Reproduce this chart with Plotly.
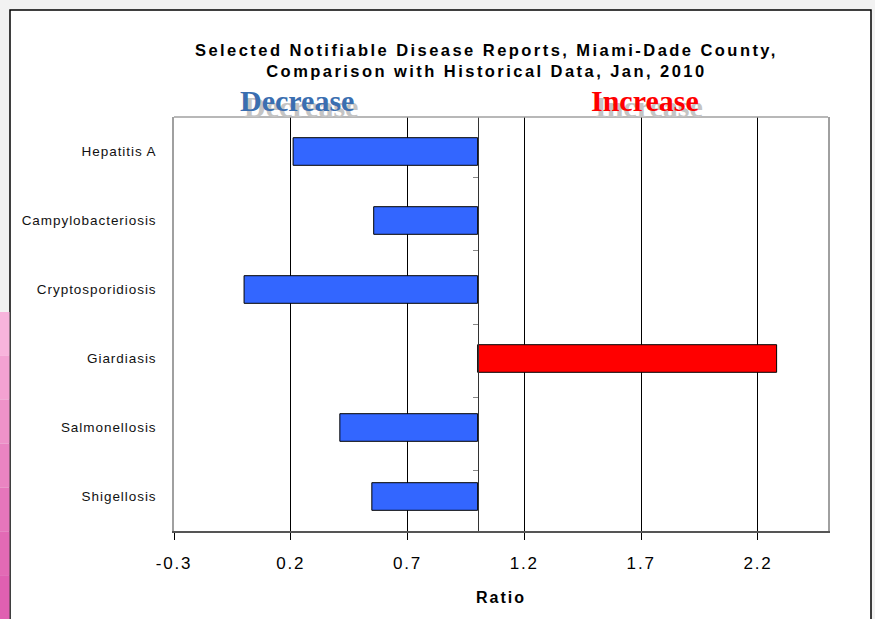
import plotly.graph_objects as go

# ---- data ----
categories = ["Hepatitis A", "Campylobacteriosis", "Cryptosporidiosis",
              "Giardiasis", "Salmonellosis", "Shigellosis"]
ratios = [0.21, 0.555, 0.0, 2.28, 0.41, 0.547]
baseline = 1.0
x_ticks = [-0.3, 0.2, 0.7, 1.2, 1.7, 2.2]
x_range = [-0.3, 2.5]

W, H = 875, 619
L, R, T, B = 174, 828, 117, 531  # plot area pixel edges


def px(xp):
    return (xp - L) / (R - L)


def py(yp):
    return (B - yp) / (B - T)


colors = ["#3366FF" if r < baseline else "#FF0000" for r in ratios]

fig = go.Figure()
fig.add_trace(go.Bar(
    y=categories, x=[r - baseline for r in ratios], base=baseline,
    orientation="h", marker=dict(color=colors, line=dict(color="#000000", width=1)),
    width=0.4, showlegend=False, hoverinfo="skip",
))
# invisible trace to carry the crossing axis at x = 1.0
fig.add_trace(go.Scatter(
    y=categories, x=[baseline] * len(categories), yaxis="y2",
    mode="markers", marker=dict(opacity=0), showlegend=False, hoverinfo="skip",
))

cross_pos = (baseline - x_range[0]) / (x_range[1] - x_range[0])
sp = "<span style='letter-spacing:0.95px'>{}</span>"
spx = "<span style='letter-spacing:1.8px'>{:g}</span>"

fig.update_layout(
    width=W, height=H,
    margin=dict(l=L, r=W - R, t=T, b=H - B),
    paper_bgcolor="#f2f2f2",
    plot_bgcolor="#ffffff",
    font=dict(family="Liberation Sans, Arial, sans-serif", color="#000000"),
    xaxis=dict(
        range=x_range, tickvals=x_ticks, ticktext=[spx.format(v) for v in x_ticks],
        showgrid=True, gridcolor="#000000", gridwidth=1,
        showline=True, linecolor="#555555", linewidth=2,
        ticks="outside", ticklen=7, tickcolor="#000000",
        tickfont=dict(size=17, color="#000000"),
        ticklabelstandoff=9, zeroline=False,
        title=dict(text="<span style='letter-spacing:2px'><b>Ratio</b></span>",
                   font=dict(size=16), standoff=19),
    ),
    yaxis=dict(
        autorange="reversed", showline=True, linecolor="#a0a0a0", linewidth=1.5,
        mirror=True, ticks="", tickfont=dict(size=13.5, color="#111111"),
        tickvals=categories, ticktext=[sp.format(c) for c in categories],
        ticklabelstandoff=13, showgrid=False, zeroline=False,
    ),
    yaxis2=dict(
        overlaying="y", anchor="free", position=cross_pos, side="left",
        autorange="reversed", showline=True, linecolor="#333333", linewidth=1,
        ticks="outside", tickson="boundaries", ticklen=5, tickcolor="#888888",
        showticklabels=False, showgrid=False, zeroline=False,
    ),
)

shapes = []
# outer white frame with black border
shapes.append(dict(type="rect", xref="paper", yref="paper", layer="below",
                   x0=px(10), x1=px(871), y0=py(640), y1=py(10),
                   fillcolor="#ffffff", line=dict(color="#000000", width=1.5)))
# top border of plot area (gray)
shapes.append(dict(type="line", xref="paper", yref="paper",
                   x0=0, x1=1, y0=1, y1=1, line=dict(color="#a0a0a0", width=1.5)))
# pink strip at left edge (gradient approximated)
pinks = ["#f8b4dc", "#f3a2d2", "#ee92c9", "#ea84c2", "#e676bb", "#e36ab5", "#e060b1"]
strip_top, strip_bot = 312, 619
n = len(pinks)
for i, c in enumerate(pinks):
    y0p = strip_top + (strip_bot - strip_top) * i / n
    y1p = strip_top + (strip_bot - strip_top) * (i + 1) / n
    shapes.append(dict(type="rect", xref="paper", yref="paper", layer="below",
                       x0=px(0), x1=px(9.5), y0=py(y1p), y1=py(y0p),
                       fillcolor=c, line=dict(width=0)))
fig.update_layout(shapes=shapes)

title_txt = ("<span style='letter-spacing:2.45px'><b>Selected Notifiable Disease Reports, Miami-Dade County,"
             "<br>Comparison with Historical Data, Jan, 2010</b></span>")
ann = [
    dict(text=title_txt, xref="paper", yref="paper", x=px(486), y=py(60),
         showarrow=False, font=dict(size=16.5, color="#000000"), align="center",
         xanchor="center", yanchor="middle"),
]
# WordArt-like labels with a drop shadow
for label, cx, col in [("Decrease", 297, "#3a6eb0"), ("Increase", 645, "#ff0000")]:
    ann.append(dict(
        text=f"<span style='text-shadow:4px 6px 0px #c4c4c4'><b>{label}</b></span>",
        xref="paper", yref="paper", x=px(cx), y=py(100), showarrow=False,
        font=dict(family="Liberation Serif, Times New Roman, serif", size=30, color=col),
        xanchor="center", yanchor="middle"))
fig.update_layout(annotations=ann)

fig.write_html("out.html", config={"displayModeBar": False},
               post_script="document.body.style.margin='0';document.body.style.overflow='hidden';")
